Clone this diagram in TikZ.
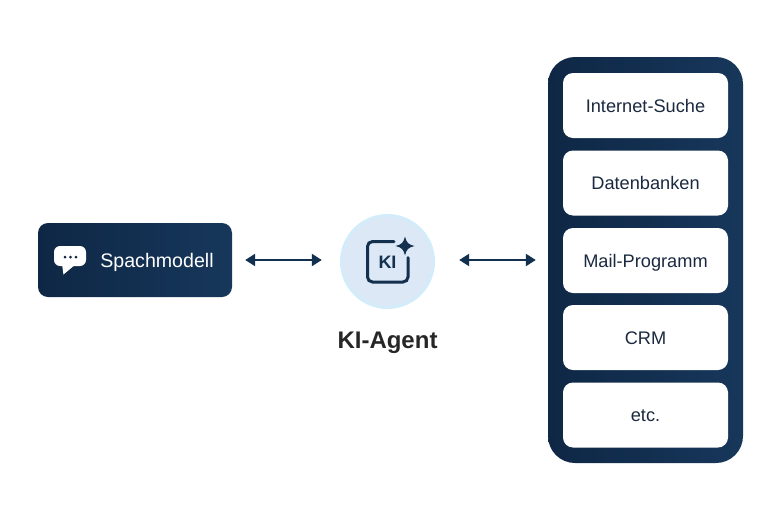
\documentclass[tikz,border=0pt]{standalone}
\usepackage{fontspec}
\setmainfont{Liberation Sans}
\usetikzlibrary{arrows.meta, shapes.geometric, positioning}
\definecolor{navydark}{HTML}{0C2240}
\definecolor{navyleft}{HTML}{0E2745}
\definecolor{navyright}{HTML}{17375B}
\definecolor{navyline}{HTML}{13304E}
\definecolor{inktext}{HTML}{1B2A40}
\definecolor{discfill}{HTML}{DCE8F6}
\definecolor{discring}{HTML}{D3ECFA}
\tikzset{
  toolbox/.style={shape=rectangle, rounded corners=10pt, minimum height=65pt, minimum width=165pt, fill=white, text=inktext, text height=13pt, text depth=0pt, inner sep=0pt, font=\fontsize{18.2}{20}\selectfont},
  navybox/.style={shape=rectangle, left color=navyleft, middle color=navydark, right color=navyright},
  linkarrow/.style={{Triangle[length=10pt,width=12pt]}-{Triangle[length=10pt,width=12pt]}, line width=2.3pt, draw=navyline},
}
\begin{document}
\begin{tikzpicture}[x=1pt, y=-1pt]
\useasboundingbox (0,0) rectangle (780,520);
%model box
\node[navybox, rounded corners=10pt, minimum height=74pt, minimum width=194pt] (model) at (135,260) {};
\node[text=white, font=\fontsize{19.6}{22}\selectfont, text height=14pt, text depth=0pt, inner sep=0pt] (modeltext) at (157,260.5) {Spachmodell};
%speech bubble
\fill[white, rounded corners=6pt] (54,246) -- (86,246) -- (86,266) -- (54,266) -- cycle;
\fill[white] (62,264) -- (76,264) -- (63.5,274.5) -- cycle;
\foreach \dotx in {65,70.5,76} \fill[navydark] (\dotx,257) circle (1.5);
%agent
\node[shape=circle, minimum size=95pt, inner sep=0pt, fill=discring] (agent) at (387.5,261.5) {};
\node[shape=circle, minimum size=89pt, inner sep=0pt, fill=discfill] at (387.5,261.5) {};
\draw[line width=3pt, draw=navyline, line cap=round, rounded corners=5pt] (394,241.5) -- (367.5,241.5) -- (367.5,282) -- (408,282) -- (408,257.5);
\fill[navyline] (405,236.5) .. controls (406.3,242.5) and (408.5,244.7) .. (414.5,246) .. controls (408.5,247.3) and (406.3,249.5) .. (405,255.5) .. controls (403.7,249.5) and (401.5,247.3) .. (395.5,246) .. controls (401.5,244.7) and (403.7,242.5) .. (405,236.5) -- cycle;
\node[text=navyline, font=\bfseries\fontsize{18}{20}\selectfont, inner sep=0pt] (kitext) at (387.5,262) {KI};
\node[text=black!85, font=\bfseries\fontsize{24}{26}\selectfont, text height=16pt, text depth=0pt, inner sep=0pt] (agentlabel) at (387.5,340) {KI-Agent};
%tool panel
\node[navybox, rounded corners=27pt, minimum height=406pt, minimum width=195pt] (panel) at (645.5,260) {};
\node[toolbox] (search) at (645.5,105.5) {Internet-Suche};
\node[toolbox] (data) at (645.5,183) {Datenbanken};
\node[toolbox] (mail) at (645.5,260.5) {Mail-Programm};
\node[toolbox] (crm) at (645.5,337.5) {CRM};
\node[toolbox] (etc) at (645.5,415) {etc.};
%
\draw[linkarrow, shorten <=13pt, shorten >=18pt] (model.east) -- (model.east -| agent.west);
\draw[linkarrow, shorten <=24pt, shorten >=12pt] (panel.west -| agent.east) -- (panel.west);
\end{tikzpicture}
\end{document}
